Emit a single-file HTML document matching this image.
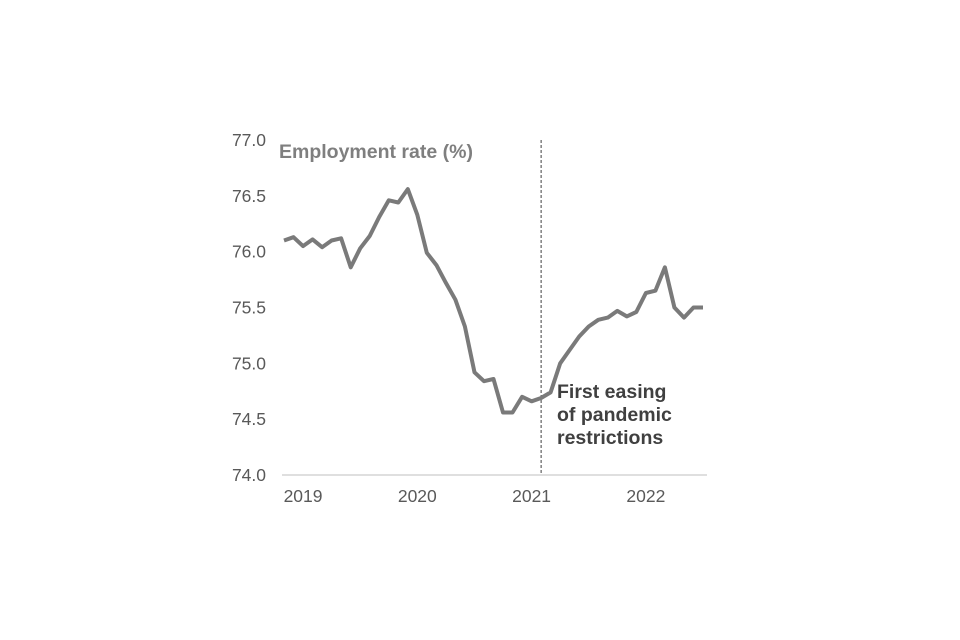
<!DOCTYPE html>
<html><head><meta charset="utf-8"><style>
body{margin:0;background:#fff;}
svg{display:block;font-family:"Liberation Sans",Arial,sans-serif;}
</style></head><body>
<svg id="chart" width="960" height="640">
<text x="279" y="158" font-size="19.5" font-weight="bold" fill="#7f7f7f">Employment rate (%)</text>
<g id="yaxis"></g>
<g id="xaxis"></g>
<line x1="282" y1="475" x2="707" y2="475" stroke="#bfbfbf" stroke-width="1"/>
<g id="marker"></g>
<text font-size="19.5" font-weight="bold" fill="#404040">
<tspan x="557" y="398">First easing</tspan><tspan x="557" y="421">of pandemic</tspan><tspan x="557" y="444">restrictions</tspan></text>
<path id="line" fill="none" stroke="#7a7a7a" stroke-width="4" stroke-linejoin="round"/>
</svg>
<script>
const values=[76.10,76.13,76.05,76.11,76.04,76.10,76.12,75.86,76.03,76.14,76.31,76.46,76.44,76.56,76.33,75.99,75.88,75.72,75.57,75.33,74.92,74.84,74.86,74.56,74.56,74.70,74.66,74.69,74.74,75.00,75.12,75.24,75.33,75.39,75.41,75.47,75.42,75.46,75.63,75.65,75.86,75.50,75.41,75.50,75.50];
const yTicks=[74.0,74.5,75.0,75.5,76.0,76.5,77.0];
const yearLabels=["2019","2020","2021","2022"];
const yearIndex=[2,14,26,38];
const easingIndex=27;
const ns="http://www.w3.org/2000/svg";
const x=i=>284+i*(703-284)/44;
const y=v=>475-(v-74)*(335/3);
const yg=document.getElementById('yaxis');
yTicks.forEach(t=>{
  const el=document.createElementNS(ns,'text');
  
  
  el.setAttribute('x',266);el.setAttribute('y',y(t)+6);
  el.setAttribute('text-anchor','end');el.setAttribute('font-size','17.5');el.setAttribute('fill','#595959');
  el.textContent=t.toFixed(1);yg.appendChild(el);
});
const xg=document.getElementById('xaxis');
yearLabels.forEach((l,k)=>{
  const el=document.createElementNS(ns,'text');
  
  
  el.setAttribute('x',x(yearIndex[k]));el.setAttribute('y',502);
  el.setAttribute('text-anchor','middle');el.setAttribute('font-size','17.5');el.setAttribute('fill','#595959');
  el.textContent=l;xg.appendChild(el);
});
const m=document.createElementNS(ns,'line');


m.setAttribute('x1',x(easingIndex));m.setAttribute('x2',x(easingIndex));
m.setAttribute('y1',140);m.setAttribute('y2',475);
m.setAttribute('stroke','#404040');m.setAttribute('stroke-width','1');m.setAttribute('stroke-dasharray','3,2');
document.getElementById('marker').appendChild(m);
document.getElementById('line').setAttribute('d',values.map((v,i)=>(i?'L':'M')+x(i).toFixed(1)+','+y(v).toFixed(1)).join(''));
</script>
</body></html>
